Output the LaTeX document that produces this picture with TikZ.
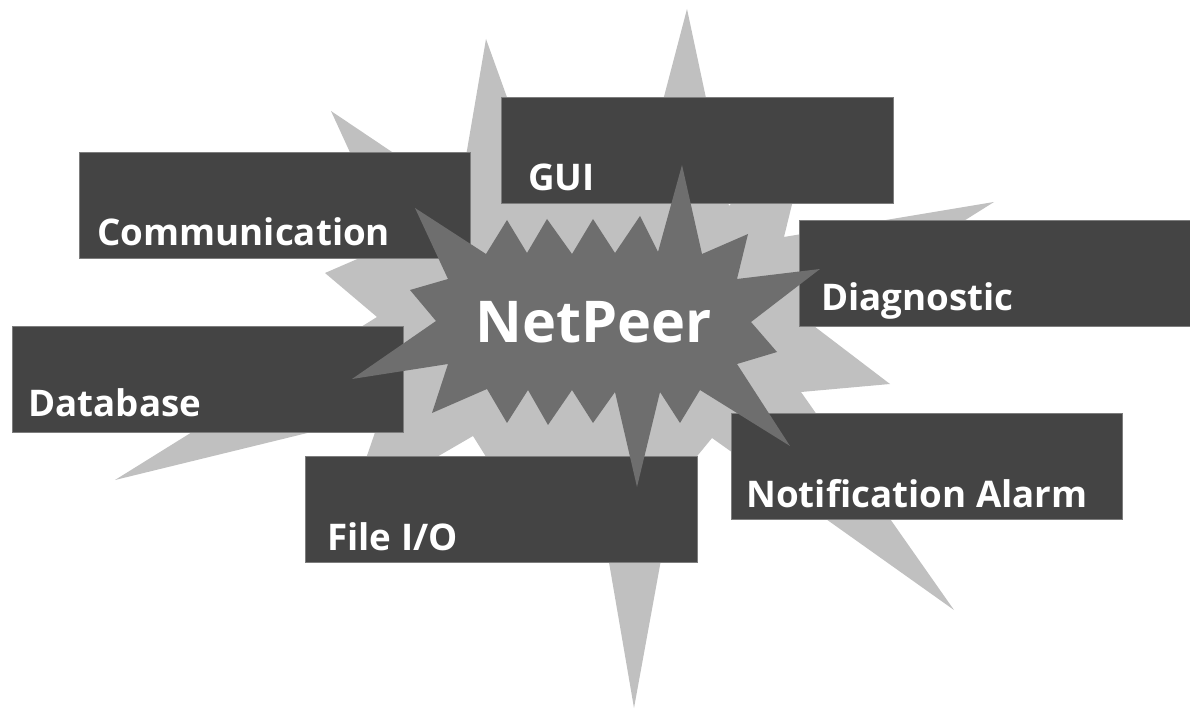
\documentclass[tikz,border=0pt]{standalone}
\usepackage{fontspec}
\setmainfont{Open Sans}[Ligatures=NoCommon]
\definecolor{burstlight}{RGB}{192,192,192}
\definecolor{burstdark}{RGB}{110,110,110}
\definecolor{boxgray}{RGB}{68,68,68}
\definecolor{boxedge}{RGB}{125,125,125}
\tikzset{
  modbox/.style={fill=boxgray, draw=boxedge, line width=0.4pt},
  modtext/.style={text=white, font=\fontsize{20.9}{24}\selectfont\bfseries, anchor=base west, inner sep=0pt},
  coretext/.style={text=white, font=\fontsize{32.8}{38}\selectfont\bfseries, anchor=base west, inner sep=0pt}
}
\begin{document}
\begin{tikzpicture}[x=0.02cm, y=-0.02cm]
\useasboundingbox (0,0) rectangle (1190,709);

% Outer burst (light)
\fill[burstlight] (687,9) -- (729,206) -- (815,110) -- (784,237) -- (994,202)
  -- (806,320) -- (890,384) -- (801,392) -- (954,610) -- (712,438)
  -- (675,483) -- (634,708) -- (600,510) -- (538,540) -- (473,436)
  -- (349,508) -- (381,415) -- (115,480) -- (377,317) -- (325,273)
  -- (392,244) -- (331,111) -- (459,197) -- (486,39) -- (526,150)
  -- (650,150) -- cycle;

% Module boxes
\draw[modbox] (79,152) rectangle (470,258);
\draw[modbox] (501,97) rectangle (893,203);
\draw[modbox] (799,220) rectangle (1190,326);
\draw[modbox] (12,326) rectangle (403,432);
\draw[modbox] (305,456) rectangle (697,562);
\draw[modbox] (731,413) rectangle (1122,519);

% Inner burst (dark)
\fill[burstdark] (415,208) -- (486,254) -- (507,220) -- (527,253) -- (547,219)
  -- (572,254) -- (593,219) -- (615,253) -- (640,216) -- (658,252)
  -- (682,165) -- (702,254) -- (748,234) -- (737,279) -- (820,269)
  -- (751,322) -- (777,352) -- (737,364) -- (790,446) -- (700,390)
  -- (680,423) -- (660,392) -- (637,487) -- (615,392) -- (593,423)
  -- (572,390) -- (548,425) -- (528,390) -- (507,423) -- (487,389)
  -- (432,413) -- (448,364) -- (352,379) -- (436,321) -- (410,290)
  -- (448,279) -- cycle;

% Labels
\node[coretext] (netpeer) at (475,343) {NetPeer};
\node[modtext] (comm) at (97,246) {Communication};
\node[modtext] (gui) at (528,191) {GUI};
\node[modtext] (diag) at (821,311) {Diagnostic};
\node[modtext] (db) at (28,417) {Database};
\node[modtext] (fileio) at (327,550) {File I/O};
\node[modtext] (alarm) at (746,507) {Notification Alarm};

\end{tikzpicture}
\end{document}
